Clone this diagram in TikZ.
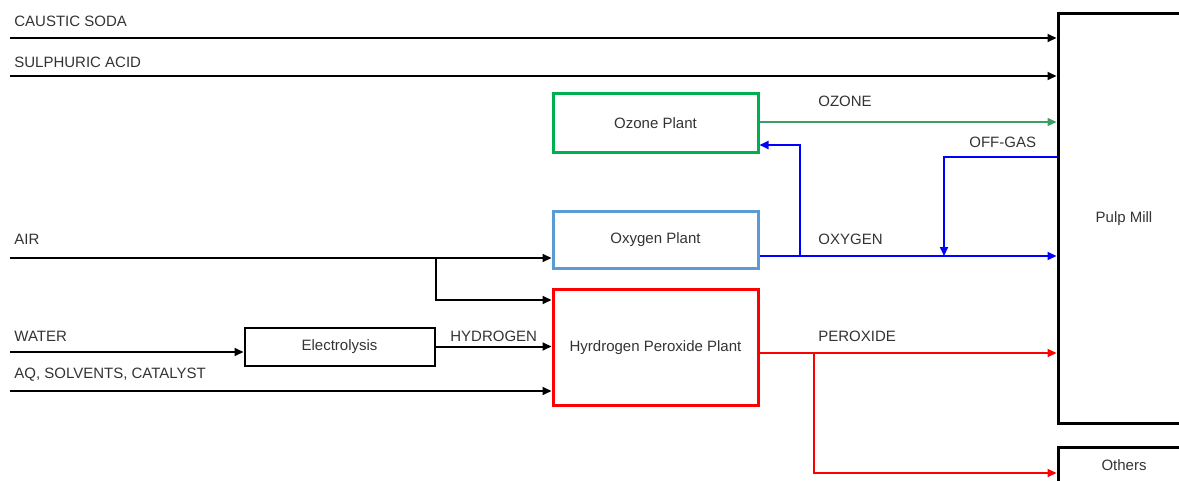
\documentclass[tikz,border=0pt]{standalone}
\usepackage{fontspec}
\setmainfont{Liberation Sans}
\usepackage{tikz}
\usetikzlibrary{arrows.meta}
\definecolor{ozgreen}{HTML}{00B050}
\definecolor{ozline}{HTML}{3A9E66}
\definecolor{oxblue}{HTML}{5B9BD5}
\definecolor{txtgray}{HTML}{333333}

\begin{document}
\begin{tikzpicture}[x=0.5pt,y=-0.5pt,font=\fontsize{7.5}{9}\selectfont,
  plant/.style={draw,line width=1.5pt,minimum width=102.5pt,text=txtgray},
  flow/.style={line width=1pt,-{Triangle[length=4.5pt,width=4pt]}},
  lbl/.style={anchor=west,inner sep=0pt,text=txtgray}]
  \useasboundingbox (0,0) rectangle (1179,481);
  \clip (0,0) rectangle (1179,481);
  % plants and mill
  \node[plant,draw=ozgreen,minimum height=29.5pt] (ozone) at (655.5,123) {Ozone Plant};
  \node[plant,draw=oxblue,minimum height=28.5pt] (oxygen) at (655.5,240) {Oxygen Plant};
  \node[plant,draw=red,minimum height=58pt] (perox) at (655.5,347.5) {Hyrdrogen Peroxide Plant};
  \node[plant,line width=1pt,minimum width=95pt,minimum height=19pt] (elec) at (339.5,346.5) {Electrolysis};
  \node[plant,minimum width=66pt,minimum height=205pt] (mill) at (1124,218.5) {Pulp Mill};
  \node[plant,minimum width=66pt,minimum height=18pt] (others) at (1124,465) {Others};
  % labels
  \foreach \t/\x/\y [count=\i] in {CAUSTIC SODA/14/21,SULPHURIC ACID/14/62,OZONE/818/101,
      OFF-GAS/969/142,AIR/14/239,OXYGEN/818/239,WATER/14/336,HYDROGEN/450/336,
      PEROXIDE/818/336}{\node[lbl] (lbl\i) at (\x,\y) {\t};}
  \node[lbl] (lbl10) at (14,375) {AQ, SOLVENTS, CATALYST};
  % feeds
  \coordinate (soda) at (10,38);
  \coordinate (acid) at (10,76);
  \coordinate (air) at (10,258);
  \coordinate (water) at (10,352);
  \coordinate (aq) at (10,391);
  \draw[flow] (soda) -- (soda -| mill.west);
  \draw[flow] (acid) -- (acid -| mill.west);
  \draw[flow] (air) -- (air -| oxygen.west);
  \coordinate (airsplit) at (436,258);
  \draw[flow] (airsplit) |- (perox.west |- 0,300);
  \draw[flow] (water) -- (water -| elec.west);
  \draw[flow] (elec) -- (elec -| perox.west);
  \draw[flow] (aq) -- (aq -| perox.west);
  % products
  \draw[flow,ozline,line width=0.75pt] (ozone.east |- 0,122) -- (mill.west |- 0,122);
  \coordinate (o2split) at (800,256);
  \coordinate (offin) at (944,256);
  \draw[flow,blue] (oxygen.east |- o2split) -- (mill.west |- o2split);
  \draw[flow,blue] (o2split) |- (ozone.east |- 0,145);
  \draw[flow,blue] (mill.west |- 0,157) -| (offin);
  \coordinate (pxsplit) at (814,353);
  \draw[flow,red] (perox.east |- pxsplit) -- (mill.west |- pxsplit);
  \draw[flow,red] (pxsplit) |- (others.west |- 0,473);
\end{tikzpicture}
\end{document}
